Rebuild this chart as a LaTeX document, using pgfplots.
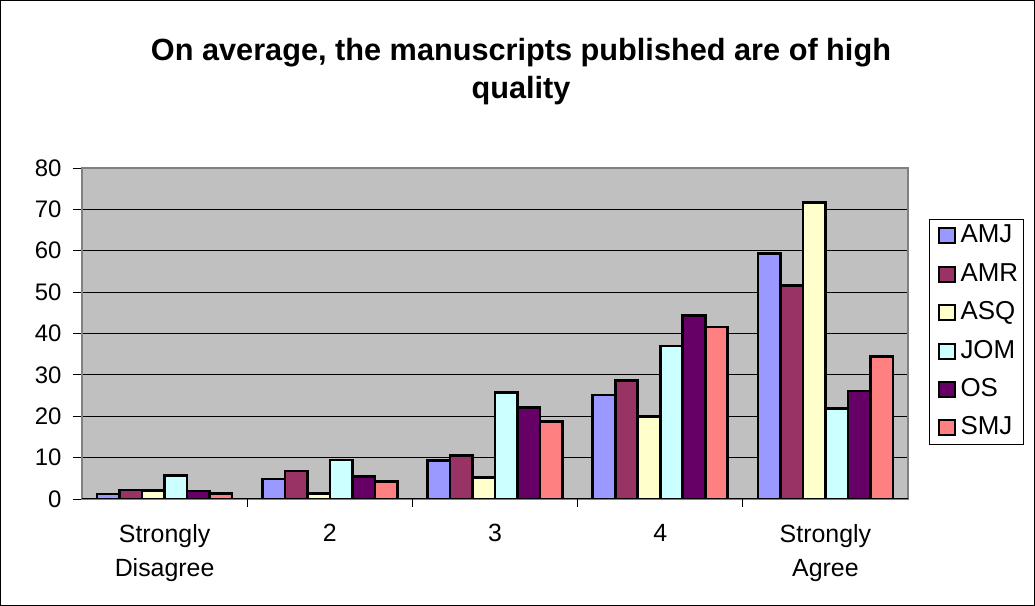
\documentclass[border=0pt]{standalone}
\usepackage{pgfplots}
\pgfplotsset{compat=1.18}
\usepackage{fontspec}
\setmainfont{Liberation Sans}
\definecolor{cAMJ}{HTML}{9999FF}
\definecolor{cAMR}{HTML}{993366}
\definecolor{cASQ}{HTML}{FFFFCC}
\definecolor{cJOM}{HTML}{CCFFFF}
\definecolor{cOS}{HTML}{660066}
\definecolor{cSMJ}{HTML}{FF8080}
\definecolor{plotgray}{HTML}{C0C0C0}
\definecolor{bordergray}{HTML}{808080}
\begin{document}
\begin{tikzpicture}[x=1bp,y=1bp]
\draw[black, line width=1bp] (0.5,0.5) rectangle (1034.5,605.5);
\node[font=\bfseries\fontsize{30.8}{38}\selectfont, align=center] at (521,534) {On average, the manuscripts published are of high\\quality};
\begin{axis}[
  at={(82bp,107bp)}, anchor=south west, scale only axis,
  width=826bp, height=331bp,
  xmin=-0.5, xmax=4.5, ymin=0, ymax=80,
  ytick={0,10,...,80},
  xtick={0,1,2,3,4},
  xticklabels={{Strongly\\Disagree},2,3,4,{Strongly\\Agree}},
  xticklabel style={align=center, font=\fontsize{25}{34}\selectfont, yshift=-13bp},
  yticklabel style={font=\fontsize{24}{28}\selectfont, xshift=-8bp},
  /pgf/number format/assume math mode=true,
  tick pos=left,
  xtick style={draw=none},
  ytick style={black, line width=0.8bp},
  tick align=outside, major tick length=9bp,
  extra x ticks={0.5,1.5,2.5,3.5},
  extra x tick labels={},
  extra x tick style={xtick style={draw=black, line width=0.8bp}, major tick length=8bp},
  ymajorgrids, major grid style={black, line width=0.8bp},
  axis background/.style={fill=plotgray},
  axis line style={draw=bordergray, line width=2bp},
  ybar=0pt, bar width=22.5bp,
  legend cell align=left,
  legend style={at={(1.0254,0.846)}, anchor=north west, draw=black, line width=0.8bp,
    font=\fontsize{26}{28}\selectfont, row sep=11.4bp, inner ysep=3bp, inner xsep=3bp,
    nodes={inner sep=2.5bp, text height=18bp, text depth=4bp}},
  legend image code/.code={\path (0bp,0bp) (23bp,0bp); \draw[#1, line width=2bp] (5bp,-7.5bp) rectangle (21bp,7.5bp);},
]
\addplot[fill=cAMJ, draw=black, line width=2.6bp] coordinates {(0,1.2) (1,4.8) (2,9.3) (3,25.1) (4,59.4)};
\addplot[fill=cAMR, draw=black, line width=2.6bp] coordinates {(0,2.2) (1,6.8) (2,10.5) (3,28.7) (4,51.6)};
\addplot[fill=cASQ, draw=black, line width=2.6bp] coordinates {(0,2.0) (1,1.3) (2,5.2) (3,19.9) (4,71.6)};
\addplot[fill=cJOM, draw=black, line width=2.6bp] coordinates {(0,5.7) (1,9.4) (2,25.8) (3,37.0) (4,21.9)};
\addplot[fill=cOS, draw=black, line width=2.6bp] coordinates {(0,1.9) (1,5.4) (2,22.1) (3,44.4) (4,26.1)};
\addplot[fill=cSMJ, draw=black, line width=2.6bp] coordinates {(0,1.3) (1,4.3) (2,18.7) (3,41.6) (4,34.4)};
\legend{AMJ,AMR,ASQ,JOM,OS,SMJ}
\draw[black, line width=1.5bp] (rel axis cs:0,0) -- (rel axis cs:1,0);
\end{axis}
\end{tikzpicture}
\end{document}
